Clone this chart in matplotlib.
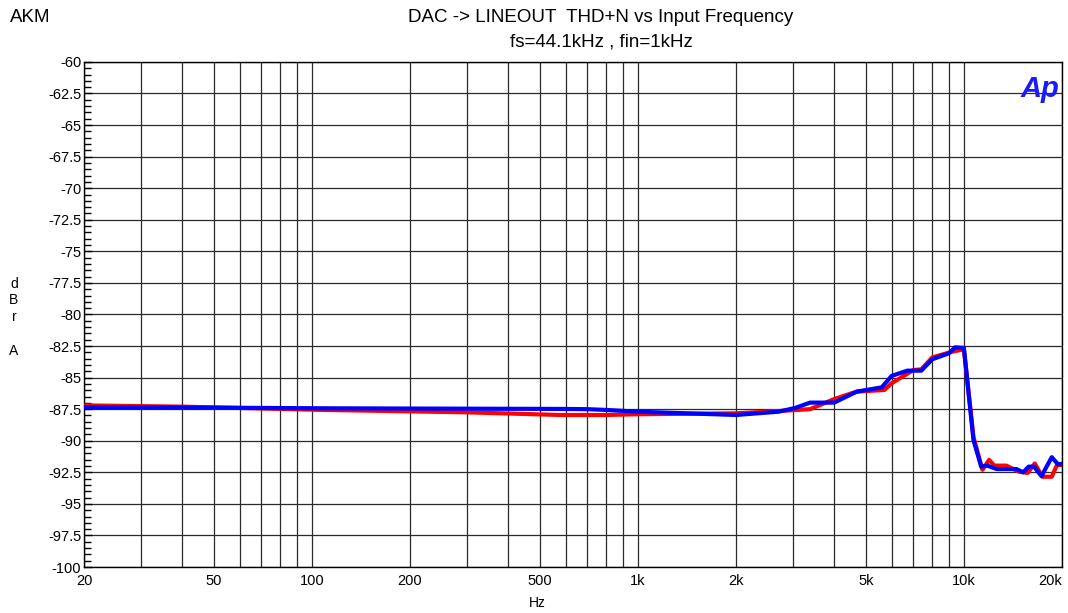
import numpy as np
import matplotlib
matplotlib.use("Agg")
import matplotlib.pyplot as plt
from matplotlib.ticker import FixedLocator, NullFormatter, MultipleLocator

plt.rcParams['font.family'] = ['Liberation Sans', 'DejaVu Sans']

# blue trace (ch A)
blue_freq = [20, 50, 109, 200, 578, 700, 800, 1000, 1500, 2000, 2700, 3040, 3374,
             4000, 4692, 5600, 6000, 6700, 7400, 8000, 9000, 9400, 10000, 10700,
             11300, 11800, 12600, 14500, 15200, 15800, 16400, 17300, 18600, 19400, 20000]
blue_db = [-87.35, -87.38, -87.43, -87.45, -87.48, -87.5, -87.56, -87.7, -87.85, -87.96,
           -87.7, -87.4, -86.98, -86.98, -86.11, -85.77, -84.87, -84.45, -84.45, -83.55,
           -83.07, -82.6, -82.65, -89.94, -92.05, -91.97, -92.24, -92.24, -92.5, -92.05,
           -92.05, -92.8, -91.3, -91.84, -91.84]

# red trace (ch B)
red_freq = [20, 40, 109, 300, 578, 800, 1000, 2000, 2700, 3374, 4000, 4692, 5700, 6000,
            7000, 7400, 8000, 9200, 10000, 10700, 11400, 11950, 12400, 13500, 14700,
            15700, 16500, 17400, 18600, 19300, 20000]
red_db = [-87.2, -87.3, -87.56, -87.75, -87.96, -87.96, -87.9, -87.83, -87.65, -87.5,
          -86.7, -86.11, -85.98, -85.45, -84.4, -84.35, -83.4, -82.95, -82.76, -89.7,
          -92.3, -91.52, -91.97, -91.97, -92.44, -92.55, -91.8, -92.85, -92.85, -91.92, -91.92]

xtick_vals = [20, 50, 100, 200, 500, 1000, 2000, 5000, 10000, 20000]
xtick_text = ["20", "50", "100", "200", "500", "1k", "2k", "5k", "10k", "20k"]
ytick_vals = np.arange(-100, -59, 2.5)
grid_freqs = [30, 40, 60, 70, 80, 90, 300, 400, 600, 700, 800, 900,
              3000, 4000, 6000, 7000, 8000, 9000]

fig = plt.figure(figsize=(10.68, 6.13), dpi=100)
ax = fig.add_axes([0.0787, 0.075, 0.9157, 0.824])

ax.plot(red_freq, red_db, color='red', lw=3, zorder=3)
ax.plot(blue_freq, blue_db, color='blue', lw=3, zorder=4)

ax.set_xscale('log')
ax.set_xlim(20, 20000)
ax.set_ylim(-100, -60)

ax.xaxis.set_major_locator(FixedLocator(xtick_vals))
ax.xaxis.set_minor_locator(FixedLocator(grid_freqs))
ax.xaxis.set_minor_formatter(NullFormatter())
ax.set_xticklabels(xtick_text)
ax.tick_params(axis='x', which='both', length=0, pad=5, labelsize=10.5)
labels = ax.get_xticklabels()
labels[-1].set_horizontalalignment('right')

ax.set_yticks(ytick_vals)
ax.set_yticklabels([f"{v:g}" for v in ytick_vals])
ax.yaxis.set_minor_locator(MultipleLocator(0.5))
ax.tick_params(axis='y', which='major', direction='in', length=6, width=1, pad=2, labelsize=10.5)
ax.tick_params(axis='y', which='minor', direction='in', length=5, width=1)

ax.xaxis.grid(True, which='both', color='#2a2a2a', lw=0.9, zorder=1)
ax.yaxis.grid(True, which='major', color='#2a2a2a', lw=0.9, zorder=1)
ax.yaxis.grid(False, which='minor')
for s in ax.spines.values():
    s.set_color('black')
    s.set_linewidth(1)

fig.text(537 / 1068, 1 - 603 / 613, "Hz", ha='center', va='center', fontsize=10)
for txt, yy in [("d", 284), ("B", 300), ("r", 317), ("A", 351)]:
    fig.text(14 / 1068, 1 - yy / 613, txt, ha='center', va='center', fontsize=10)

fig.text(10 / 1068, 1 - 18 / 613, "AKM", ha='left', va='center', fontsize=13.5)
fig.text(601 / 1068, 1 - 18 / 613, "DAC -> LINEOUT  THD+N vs Input Frequency",
         ha='center', va='center', fontsize=13.5)
fig.text(601 / 1068, 1 - 42 / 613, "fs=44.1kHz , fin=1kHz",
         ha='center', va='center', fontsize=13.5)
ax.text(0.997, 0.975, "Ap", transform=ax.transAxes, ha='right', va='top',
        fontsize=21, fontweight='heavy', fontstyle='italic', color='#1a1aff', zorder=5)

fig.savefig("out.png", dpi=100)
